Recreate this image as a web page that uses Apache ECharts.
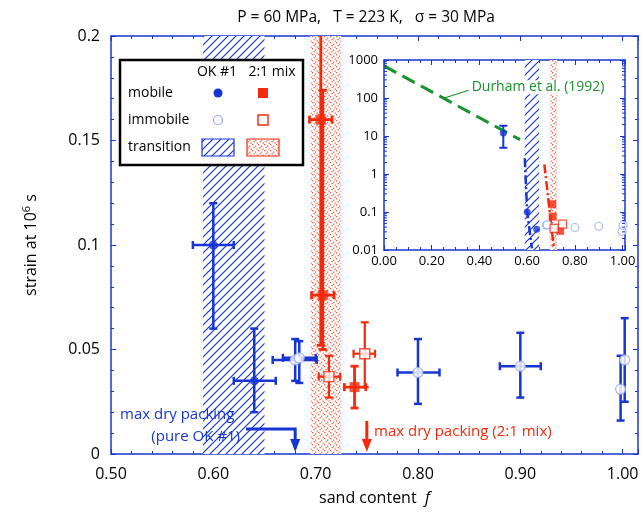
<!DOCTYPE html>
<html>
<head>
<meta charset="utf-8">
<script src="https://cdn.jsdelivr.net/npm/echarts@6/dist/echarts.min.js"></script>
<style>
html,body{margin:0;padding:0;background:#fff}
#chartmain{width:644px;height:520px}
</style>
</head>
<body>
<div id="chartmain"></div>
<script>
// rows: [f, strain, fLow, fHigh, strainLow, strainHigh]
var okMobile = [
    [0.600, 0.100, 0.580, 0.620, 0.060, 0.120],
    [0.640, 0.035, 0.620, 0.661, 0.020, 0.060]
];
var okImmobile = [
    [0.680, 0.045, 0.658, 0.701, 0.035, 0.055],
    [0.684, 0.046, 0.668, 0.700, 0.034, 0.054],
    [0.800, 0.039, 0.780, 0.821, 0.024, 0.055],
    [0.900, 0.042, 0.880, 0.920, 0.027, 0.058],
    [0.998, 0.031, null, null, 0.016, 0.047],
    [1.002, 0.045, null, null, 0.025, 0.065]
];
var mixMobile = [
    [0.705, 0.160, 0.694, 0.716, 0.052, 0.250],
    [0.707, 0.076, 0.696, 0.718, 0.050, 0.174],
    [0.738, 0.032, 0.728, 0.749, 0.022, 0.042]
];
var mixImmobile = [
    [0.713, 0.037, 0.703, 0.724, 0.027, 0.047],
    [0.748, 0.048, 0.737, 0.758, 0.032, 0.063]
];
var okBand = [[0.59, 0.65]];
var mixBand = [[0.695, 0.725]];
var packing = [0.68, 0.75];
// inset
var okLowSand = [[0.50, 12, null, null, 4.9, 18.6]];
var durham = [[0.00, 700], [0.57, 8]];
var okTrend = [[0.59, 2.6], [0.60, 0.1], [0.62, 0.011]];
var mixTrend = [[0.672, 1.8], [0.712, 0.011]];
var yLogDecades = [0.01, 0.1, 1, 10, 100];

var BLUE = '#1636d4', LBLUE = '#93a6ee', RED = '#f5290b', GREEN = '#17922c';
var FONT = 'Open Sans';

function hatch(color) {
    var c = document.createElement('canvas');
    c.width = 8; c.height = 8;
    var g = c.getContext('2d');
    g.fillStyle = '#fff'; g.fillRect(0, 0, 8, 8);
    g.strokeStyle = color; g.lineWidth = 1.2;
    g.beginPath();
    g.moveTo(0, 8); g.lineTo(8, 0);
    g.moveTo(-4, 4); g.lineTo(4, -4);
    g.moveTo(4, 12); g.lineTo(12, 4);
    g.stroke();
    return c;
}
function dots(color) {
    var c = document.createElement('canvas');
    c.width = 6; c.height = 6;
    var g = c.getContext('2d');
    g.fillStyle = '#fff'; g.fillRect(0, 0, 6, 6);
    g.fillStyle = color;
    g.fillRect(0, 0, 1.3, 1.3); g.fillRect(3, 1.5, 1.3, 1.3);
    g.fillRect(1.5, 3, 1.3, 1.3); g.fillRect(4.5, 4.5, 1.3, 1.3);
    return c;
}
var hatchFill = {image: hatch(BLUE), repeat: 'repeat'};
var dotFill = {image: dots('#ff5a40'), repeat: 'repeat'};

function bandRender(fill) {
    return function (params, api) {
        var cs = params.coordSys;
        var a = api.coord([api.value(0), 1]);
        var b = api.coord([api.value(1), 1]);
        return {type: 'rect', shape: {x: a[0], y: cs.y, width: b[0] - a[0], height: cs.height},
            style: {fill: fill}};
    };
}
function errRender(color, lw) {
    return function (params, api) {
        var x = api.value(0), y = api.value(1);
        var ch = [], cap = 4, st = {stroke: color, lineWidth: lw};
        var xlo = api.value(2), xhi = api.value(3), ylo = api.value(4), yhi = api.value(5);
        function seg(p, q) { ch.push({type: 'line', shape: {x1: p[0], y1: p[1], x2: q[0], y2: q[1]}, style: st}); }
        if (ylo > 0) {
            var a = api.coord([x, ylo]), b = api.coord([x, yhi]);
            seg(a, b);
            seg([a[0] - cap, a[1]], [a[0] + cap, a[1]]);
            seg([b[0] - cap, b[1]], [b[0] + cap, b[1]]);
        }
        if (xlo > 0) {
            var c = api.coord([xlo, y]), d = api.coord([xhi, y]);
            seg(c, d);
            seg([c[0], c[1] - cap], [c[0], c[1] + cap]);
            seg([d[0], d[1] - cap], [d[0], d[1] + cap]);
        }
        return {type: 'group', children: ch};
    };
}

function frameAxis(extra) {
    var base = {
        axisLine: {show: true, onZero: false, lineStyle: {color: BLUE, width: 1.5}},
        axisTick: {show: true, inside: true, length: 5, lineStyle: {color: BLUE, width: 1}},
        minorTick: {show: true, length: 3, lineStyle: {color: BLUE, width: 1}},
        splitLine: {show: false},
        minorSplitLine: {show: false},
        axisLabel: {show: false}
    };
    for (var k in extra) base[k] = extra[k];
    return base;
}
var mainLabel = {color: '#000', fontSize: 16, fontFamily: FONT};
var insetLabel = {color: '#000', fontSize: 13, fontFamily: FONT};

var myChart = echarts.init(document.getElementById('chartmain'));

var option = {
    animation: false,
    backgroundColor: '#fff',
    grid: [
        {left: 111, top: 36, width: 527, height: 418, outerBoundsMode: 'none'},
        {left: 384, top: 60, width: 241, height: 190, outerBoundsMode: 'none', show: true,
            backgroundColor: '#fff', borderWidth: 0}
    ],
    xAxis: [
        frameAxis({gridIndex: 0, type: 'value', position: 'bottom', min: 0.5, max: 1.015, interval: 0.1,
            minorTick: {show: true, splitNumber: 5, length: 3, lineStyle: {color: BLUE}},
            axisLabel: Object.assign({show: true, margin: 12, showMaxLabel: false,
                formatter: function (v) { return v.toFixed(2); }}, mainLabel),
            name: 'sand content  {i|f}', nameLocation: 'middle', nameGap: 36,
            nameTextStyle: {color: '#000', fontSize: 16, fontFamily: FONT,
                rich: {i: {fontStyle: 'italic', fontSize: 16, fontFamily: FONT}}}}),
        frameAxis({gridIndex: 0, type: 'value', position: 'top', min: 0.5, max: 1.015, interval: 0.1,
            minorTick: {show: true, splitNumber: 5, length: 3, lineStyle: {color: BLUE}}}),
        frameAxis({gridIndex: 1, type: 'value', position: 'bottom', min: 0, max: 1.01, interval: 0.2,
            minorTick: {show: true, splitNumber: 4, length: 3, lineStyle: {color: BLUE}},
            axisLabel: Object.assign({show: true, margin: 5, showMaxLabel: false,
                formatter: function (v) { return v.toFixed(2); }}, insetLabel)}),
        frameAxis({gridIndex: 1, type: 'value', position: 'top', min: 0, max: 1.01, interval: 0.2,
            minorTick: {show: true, splitNumber: 4, length: 3, lineStyle: {color: BLUE}}})
    ],
    yAxis: [
        frameAxis({gridIndex: 0, type: 'value', position: 'left', min: 0, max: 0.2, interval: 0.05,
            minorTick: {show: true, splitNumber: 5, length: 3, lineStyle: {color: BLUE}},
            axisLabel: Object.assign({show: true, margin: 11}, mainLabel),
            name: 'strain at 10{s|6} s', nameLocation: 'middle', nameGap: 70, nameRotate: 90,
            nameTextStyle: {color: '#000', fontSize: 16, fontFamily: FONT,
                rich: {s: {fontSize: 11, fontFamily: FONT, padding: [0, 0, 9, 0]}}}}),
        frameAxis({gridIndex: 0, type: 'value', position: 'right', min: 0, max: 0.2, interval: 0.05,
            minorTick: {show: true, splitNumber: 5, length: 3, lineStyle: {color: BLUE}}}),
        frameAxis({gridIndex: 1, type: 'log', logBase: 10, position: 'left', min: 0.01, max: 1000,
            minorTick: {show: false},
            axisLabel: Object.assign({show: true, margin: 6,
                formatter: function (v) { return String(Number(v.toPrecision(1))); }}, insetLabel)}),
        frameAxis({gridIndex: 1, type: 'log', logBase: 10, position: 'right', min: 0.01, max: 1000,
            minorTick: {show: false}})
    ],
    series: [
        // main plot
        {type: 'custom', xAxisIndex: 0, yAxisIndex: 0, data: okBand, renderItem: bandRender(hatchFill),
            encode: {x: [0, 1]}, z: 1, silent: true},
        {type: 'custom', xAxisIndex: 0, yAxisIndex: 0, data: mixBand, renderItem: bandRender(dotFill),
            encode: {x: [0, 1]}, z: 1, silent: true},
        {type: 'custom', xAxisIndex: 0, yAxisIndex: 0, data: okMobile, renderItem: errRender(BLUE, 2.5),
            encode: {x: 0, y: 1}, clip: true, z: 3},
        {type: 'custom', xAxisIndex: 0, yAxisIndex: 0, data: okImmobile, renderItem: errRender(BLUE, 2.5),
            encode: {x: 0, y: 1}, clip: true, z: 3},
        {type: 'custom', xAxisIndex: 0, yAxisIndex: 0, data: mixMobile, renderItem: errRender(RED, 2.8),
            encode: {x: 0, y: 1}, clip: true, z: 3},
        {type: 'custom', xAxisIndex: 0, yAxisIndex: 0, data: mixImmobile, renderItem: errRender(RED, 2.2),
            encode: {x: 0, y: 1}, clip: true, z: 3},
        {type: 'scatter', xAxisIndex: 0, yAxisIndex: 0, data: okMobile, symbol: 'circle', symbolSize: 9,
            itemStyle: {color: BLUE}, z: 4},
        {type: 'scatter', xAxisIndex: 0, yAxisIndex: 0, data: okImmobile, symbol: 'circle', symbolSize: 10,
            itemStyle: {color: '#fff', borderColor: LBLUE, borderWidth: 1.2}, z: 4},
        {type: 'scatter', xAxisIndex: 0, yAxisIndex: 0, data: mixMobile, symbol: 'rect', symbolSize: 10,
            itemStyle: {color: RED}, z: 4},
        {type: 'scatter', xAxisIndex: 0, yAxisIndex: 0, data: mixImmobile, symbol: 'rect', symbolSize: 10,
            itemStyle: {color: '#fff', borderColor: RED, borderWidth: 1.4}, z: 4},
        // inset
        {type: 'custom', xAxisIndex: 2, yAxisIndex: 2, data: okBand, renderItem: bandRender(hatchFill),
            encode: {x: [0, 1]}, z: 1, silent: true},
        {type: 'custom', xAxisIndex: 2, yAxisIndex: 2, data: mixBand, renderItem: bandRender(dotFill),
            encode: {x: [0, 1]}, z: 1, silent: true},
        {type: 'line', xAxisIndex: 2, yAxisIndex: 2, data: durham, symbol: 'none', z: 3,
            lineStyle: {color: GREEN, width: 3, type: [14, 7]}},
        {type: 'line', xAxisIndex: 2, yAxisIndex: 2, data: okTrend, symbol: 'none', z: 3,
            lineStyle: {color: BLUE, width: 2.5, type: [9, 3, 2, 3]}},
        {type: 'line', xAxisIndex: 2, yAxisIndex: 2, data: mixTrend, symbol: 'none', z: 3,
            lineStyle: {color: RED, width: 2.5, type: [9, 3, 2, 3]}},
        {type: 'custom', xAxisIndex: 2, yAxisIndex: 2, data: okLowSand, renderItem: errRender(BLUE, 2),
            encode: {x: 0, y: 1}, z: 3},
        {type: 'scatter', xAxisIndex: 2, yAxisIndex: 2, data: okLowSand.concat(okMobile), symbol: 'circle',
            symbolSize: 7, itemStyle: {color: BLUE}, z: 4},
        {type: 'scatter', xAxisIndex: 2, yAxisIndex: 2, data: okImmobile, symbol: 'circle', symbolSize: 8,
            itemStyle: {color: '#fff', borderColor: LBLUE, borderWidth: 1.1}, z: 4},
        {type: 'scatter', xAxisIndex: 2, yAxisIndex: 2, data: mixMobile, symbol: 'rect', symbolSize: 8,
            itemStyle: {color: RED}, z: 4},
        {type: 'scatter', xAxisIndex: 2, yAxisIndex: 2, data: mixImmobile, symbol: 'rect', symbolSize: 8,
            itemStyle: {color: '#fff', borderColor: RED, borderWidth: 1.2}, z: 4}
    ]
};
myChart.setOption(option);

// annotations (title, legend, arrows) placed from the axes
var axisY = myChart.convertToPixel({xAxisIndex: 0, yAxisIndex: 0}, [0.5, 0])[1];
var pOk = myChart.convertToPixel({xAxisIndex: 0, yAxisIndex: 0}, [packing[0], 0])[0];
var pMix = myChart.convertToPixel({xAxisIndex: 0, yAxisIndex: 0}, [packing[1], 0])[0];
var dx = 0.25;
var dy = Math.pow(10, Math.log10(durham[0][1]) + (Math.log10(durham[1][1]) - Math.log10(durham[0][1])) * dx / durham[1][0]);
var dp = myChart.convertToPixel({xAxisIndex: 2, yAxisIndex: 2}, [dx, dy]);

function txt(x, y, s, color, size, align) {
    return {type: 'text', x: x, y: y, z: 20,
        style: {text: s, fill: color, fontSize: size, fontFamily: FONT, align: align || 'left', verticalAlign: 'middle'}};
}
function arrowHead(x, color) {
    return {type: 'polygon', z: 20, shape: {points: [[x - 5, axisY - 15], [x + 5, axisY - 15], [x, axisY - 2]]},
        style: {fill: color}};
}
var g = [
    txt(366, 18, 'P = 60 MPa,   T = 223 K,   \u03c3 = 30 MPa', '#000', 15.5, 'center'),
    // legend
    {type: 'rect', z: 20, shape: {x: 120, y: 60, width: 183, height: 105},
        style: {fill: '#fff', stroke: '#000', lineWidth: 2.5}},
    txt(217, 72, 'OK #1', '#000', 14, 'center'),
    txt(272, 72, '2:1 mix', '#000', 14, 'center'),
    txt(128, 93, 'mobile', '#000', 14),
    txt(128, 120, 'immobile', '#000', 14),
    txt(128, 147, 'transition', '#000', 14),
    {type: 'circle', z: 21, shape: {cx: 218, cy: 93, r: 4.5}, style: {fill: BLUE}},
    {type: 'rect', z: 21, shape: {x: 258, y: 88, width: 10, height: 10}, style: {fill: RED}},
    {type: 'circle', z: 21, shape: {cx: 218, cy: 120, r: 4.5}, style: {fill: '#fff', stroke: LBLUE, lineWidth: 1.2}},
    {type: 'rect', z: 21, shape: {x: 258, y: 115, width: 10, height: 10}, style: {fill: '#fff', stroke: RED, lineWidth: 1.4}},
    {type: 'rect', z: 21, shape: {x: 202, y: 139, width: 32, height: 17}, style: {fill: hatchFill, stroke: BLUE, lineWidth: 1.2}},
    {type: 'rect', z: 21, shape: {x: 247, y: 139, width: 32, height: 17}, style: {fill: dotFill, stroke: RED, lineWidth: 1.2}},
    // packing arrows
    txt(120, 415, 'max dry packing', BLUE, 15),
    txt(240, 437, '(pure OK #1)', BLUE, 15, 'right'),
    {type: 'polyline', z: 20, shape: {points: [[246, 429], [pOk, 429], [pOk, axisY - 14]]},
        style: {stroke: BLUE, lineWidth: 3, fill: null}},
    arrowHead(pOk, BLUE),
    txt(374, 432, 'max dry packing (2:1 mix)', RED, 15),
    {type: 'line', z: 20, shape: {x1: pMix, y1: 421, x2: pMix, y2: axisY - 14}, style: {stroke: RED, lineWidth: 3}},
    arrowHead(pMix, RED),
    // Durham label
    {type: 'line', z: 20, shape: {x1: dp[0], y1: dp[1], x2: dp[0] + 25, y2: dp[1] - 8}, style: {stroke: GREEN, lineWidth: 1.2}},
    {type: 'text', x: dp[0] + 27, y: dp[1] - 11, z: 20,
        style: {text: 'Durham et al. (1992)', fill: GREEN, fontSize: 14, fontFamily: FONT,
            verticalAlign: 'middle', backgroundColor: '#fff', padding: [0, 1]}}
];
// log-style minor ticks on the inset's left and right frame
var lx = myChart.convertToPixel({xAxisIndex: 2, yAxisIndex: 2}, [0, 1])[0];
var rx = myChart.convertToPixel({xAxisIndex: 2, yAxisIndex: 2}, [1.01, 1])[0];
yLogDecades.forEach(function (d) {
    for (var m = 2; m <= 9; m++) {
        var py = myChart.convertToPixel({xAxisIndex: 2, yAxisIndex: 2}, [0, d * m])[1];
        g.push({type: 'line', z: 5, shape: {x1: lx, y1: py, x2: lx + 3, y2: py}, style: {stroke: BLUE, lineWidth: 1}});
        g.push({type: 'line', z: 5, shape: {x1: rx, y1: py, x2: rx - 3, y2: py}, style: {stroke: BLUE, lineWidth: 1}});
    }
});
myChart.setOption({graphic: g});
</script>
</body>
</html>
